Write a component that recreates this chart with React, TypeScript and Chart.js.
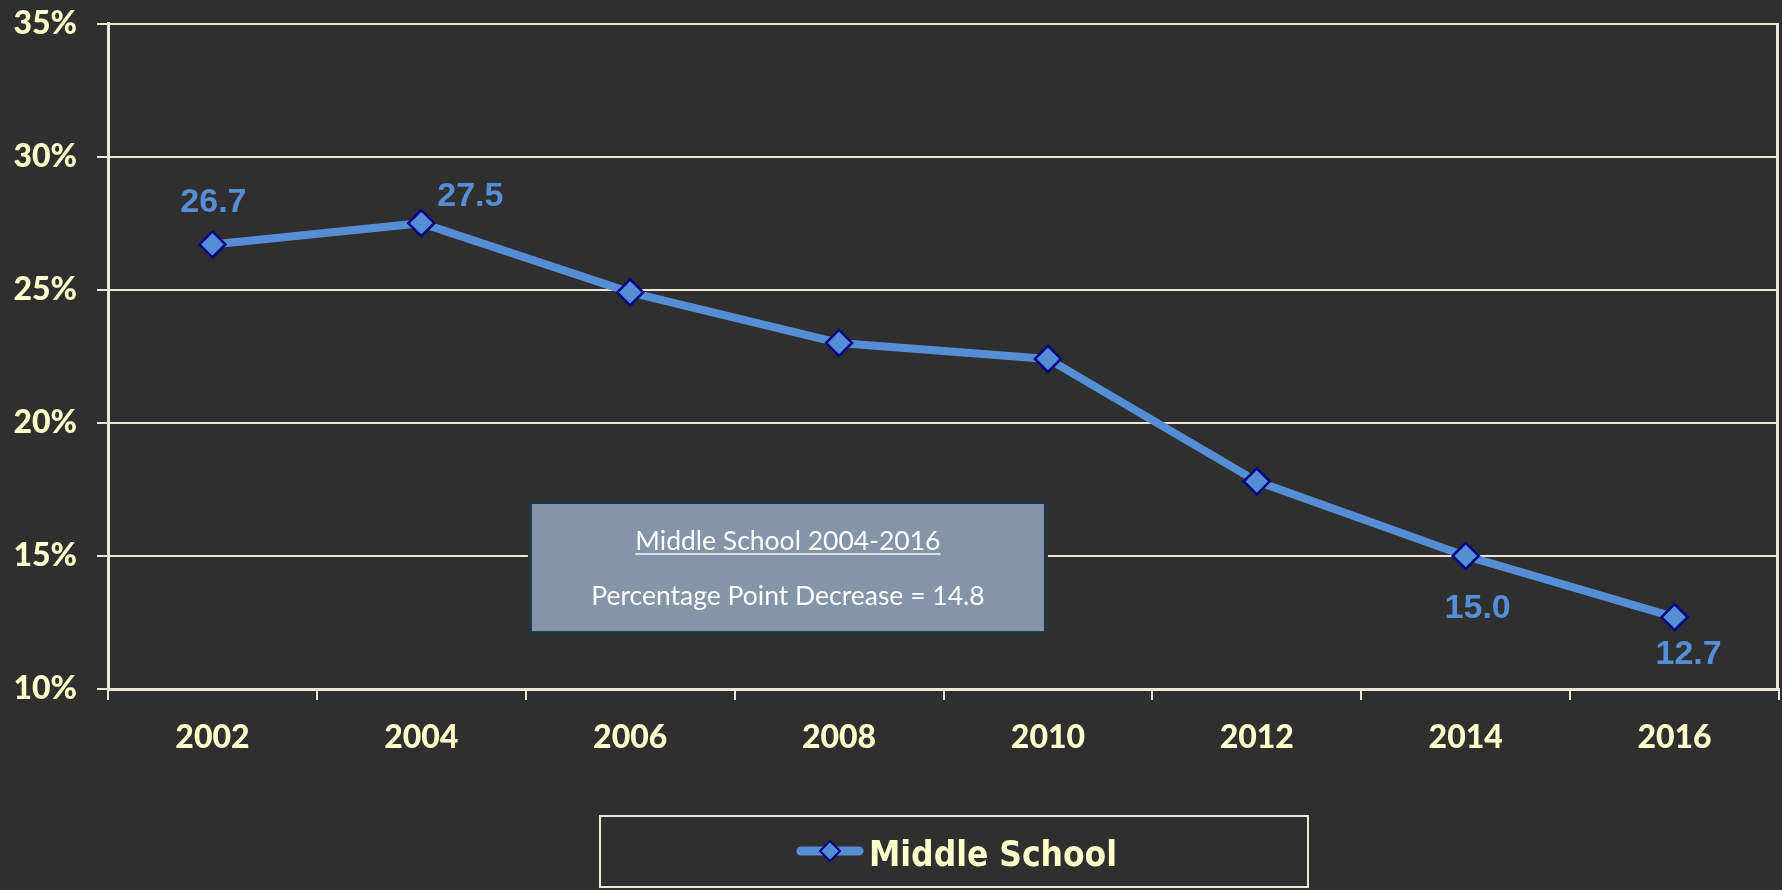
import React, { useEffect, useRef } from 'react';
import { Chart, registerables } from 'chart.js';

Chart.register(...registerables);

// ---- data ----
const years = ['2002', '2004', '2006', '2008', '2010', '2012', '2014', '2016'];
const middleSchool = [26.7, 27.5, 24.9, 23.0, 22.4, 17.8, 15.0, 12.7];
const yTickValues = [10, 15, 20, 25, 30, 35];
const seriesLabel = 'Middle School';
const labeledIndexes = [0, 1, 6, 7];
const noteTitle = 'Middle School 2004-2016';
const noteText = 'Percentage Point Decrease = 14.8';

// ---- styles ----
const BG = '#2f2f2f';
const CREAM = '#ebe8d8';
const LABEL = '#ffffcc';
const BLUE = '#558ed5';
const NAVY = '#000080';
const AXIS_FONT = { family: 'Lato, "Open Sans", sans-serif', size: 32, weight: 900 as any };

const labelOffsets: Record<number, [number, number]> = {
  0: [1, -42],
  1: [49, -27],
  6: [12, 53],
  7: [14, 37],
};

const valueLabelPlugin = {
  id: 'valueLabels',
  afterDatasetsDraw(chart: any) {
    const ctx = chart.ctx;
    const meta = chart.getDatasetMeta(0);
    const data = chart.data.datasets[0].data as number[];
    ctx.save();
    ctx.font = 'bold 34px "Liberation Sans", Arial, sans-serif';
    ctx.fillStyle = BLUE;
    ctx.textAlign = 'center';
    ctx.textBaseline = 'middle';
    labeledIndexes.forEach((i) => {
      const el = meta.data[i];
      const [dx, dy] = labelOffsets[i] || [0, -30];
      ctx.fillText(data[i].toFixed(1), el.x + dx, el.y + dy);
    });
    ctx.restore();
  },
};

const frameAndNotePlugin = {
  id: 'frameAndNote',
  afterDraw(chart: any) {
    const ctx = chart.ctx;
    const ca = chart.chartArea;
    ctx.save();
    ctx.strokeStyle = CREAM;
    ctx.lineWidth = 3;
    ctx.beginPath();
    ctx.moveTo(ca.right - 1.5, ca.top);
    ctx.lineTo(ca.right - 1.5, ca.bottom);
    ctx.stroke();

    const bx = ca.left + 0.2525 * ca.width;
    const bw = 0.3088 * ca.width;
    const by = ca.top + 0.719 * ca.height;
    const bh = 0.197 * ca.height;
    ctx.fillStyle = '#8495a9';
    ctx.fillRect(bx, by, bw, bh);
    ctx.strokeStyle = '#28323d';
    ctx.lineWidth = 4;
    ctx.strokeRect(bx, by, bw, bh);
    const cx = bx + bw / 2;
    ctx.fillStyle = '#ffffff';
    ctx.textAlign = 'center';
    ctx.textBaseline = 'alphabetic';
    ctx.font = '26.5px Lato, "Open Sans", sans-serif';
    const t1y = by + 48;
    ctx.fillText(noteTitle, cx, t1y);
    const w1 = ctx.measureText(noteTitle).width;
    ctx.strokeStyle = '#ffffff';
    ctx.lineWidth = 1.5;
    ctx.beginPath();
    ctx.moveTo(cx - w1 / 2, t1y + 4);
    ctx.lineTo(cx + w1 / 2, t1y + 4);
    ctx.stroke();
    ctx.fillText(noteText, cx, by + 103);

    const lx = 600;
    const ly = chart.height - 74;
    const lw = 708;
    const lh = 71;
    ctx.strokeStyle = CREAM;
    ctx.lineWidth = 2;
    ctx.strokeRect(lx, ly, lw, lh);
    const my = ly + 35;
    ctx.strokeStyle = BLUE;
    ctx.lineWidth = 9;
    ctx.lineCap = 'round';
    ctx.beginPath();
    ctx.moveTo(lx + 201, my);
    ctx.lineTo(lx + 259, my);
    ctx.stroke();
    const dcx = lx + 230;
    const r = 10;
    ctx.beginPath();
    ctx.moveTo(dcx - r, my);
    ctx.lineTo(dcx, my - r);
    ctx.lineTo(dcx + r, my);
    ctx.lineTo(dcx, my + r);
    ctx.closePath();
    ctx.fillStyle = BLUE;
    ctx.fill();
    ctx.strokeStyle = NAVY;
    ctx.lineWidth = 2;
    ctx.stroke();
    ctx.font = 'bold 36px "DejaVu Sans", sans-serif';
    ctx.fillStyle = LABEL;
    ctx.textAlign = 'left';
    const tw = ctx.measureText(seriesLabel).width;
    const sx = 248 / tw;
    ctx.translate(lx + 269, ly + 50);
    ctx.scale(sx, 1);
    ctx.fillText(seriesLabel, 0, 0);
    ctx.restore();
  },
};

export default function App() {
  const canvasRef = useRef<HTMLCanvasElement | null>(null);

  useEffect(() => {
    document.body.style.margin = '0';
    document.body.style.overflow = 'hidden';
    document.body.style.background = BG;
    const canvas = canvasRef.current;
    if (!canvas) return;
    const chart = new Chart(canvas, {
      type: 'line',
      data: {
        labels: years,
        datasets: [
          {
            label: seriesLabel,
            data: middleSchool,
            borderColor: BLUE,
            backgroundColor: BLUE,
            borderWidth: 8,
            tension: 0,
            pointStyle: 'rectRot',
            pointRadius: 13,
            pointHoverRadius: 13,
            pointBackgroundColor: BLUE,
            pointBorderColor: NAVY,
            pointBorderWidth: 2.5,
          },
        ],
      },
      options: {
        animation: false,
        responsive: true,
        maintainAspectRatio: false,
        layout: { autoPadding: false, padding: { top: 23.5, right: 3, left: 0, bottom: 135 } },
        plugins: {
          legend: { display: false },
          tooltip: { enabled: false },
        },
        scales: {
          x: {
            type: 'category',
            offset: true,
            grid: {
              offset: true,
              drawOnChartArea: false,
              drawTicks: true,
              tickLength: 11,
              color: CREAM,
              lineWidth: 2,
            },
            border: { color: CREAM, width: 3 },
            ticks: {
              padding: 18,
              color: LABEL,
              font: AXIS_FONT,
              maxRotation: 0,
            },
            afterFit(scale: any) {
              scale.height = 66;
              scale.paddingLeft = 0;
              scale.paddingRight = 0;
            },
          },
          y: {
            min: 10,
            max: 35,
            afterBuildTicks(scale: any) {
              scale.ticks = yTickValues.map((v) => ({ value: v }));
            },
            grid: {
              color: CREAM,
              lineWidth: 2,
              drawTicks: true,
              tickLength: 11,
            },
            border: { color: CREAM, width: 3 },
            ticks: {
              padding: 20,
              color: LABEL,
              font: AXIS_FONT,
              callback: (v: any) => v + '%',
            },
            afterFit(scale: any) {
              scale.width = 108;
              scale.paddingTop = 0;
              scale.paddingBottom = 0;
            },
          },
        },
      },
      plugins: [valueLabelPlugin, frameAndNotePlugin],
    });
    return () => chart.destroy();
  }, []);

  return (
    <div style={{ width: '1782px', height: '890px', background: BG, position: 'relative', overflow: 'hidden' }}>
      <canvas ref={canvasRef} style={{ display: 'block' }} />
    </div>
  );
}
